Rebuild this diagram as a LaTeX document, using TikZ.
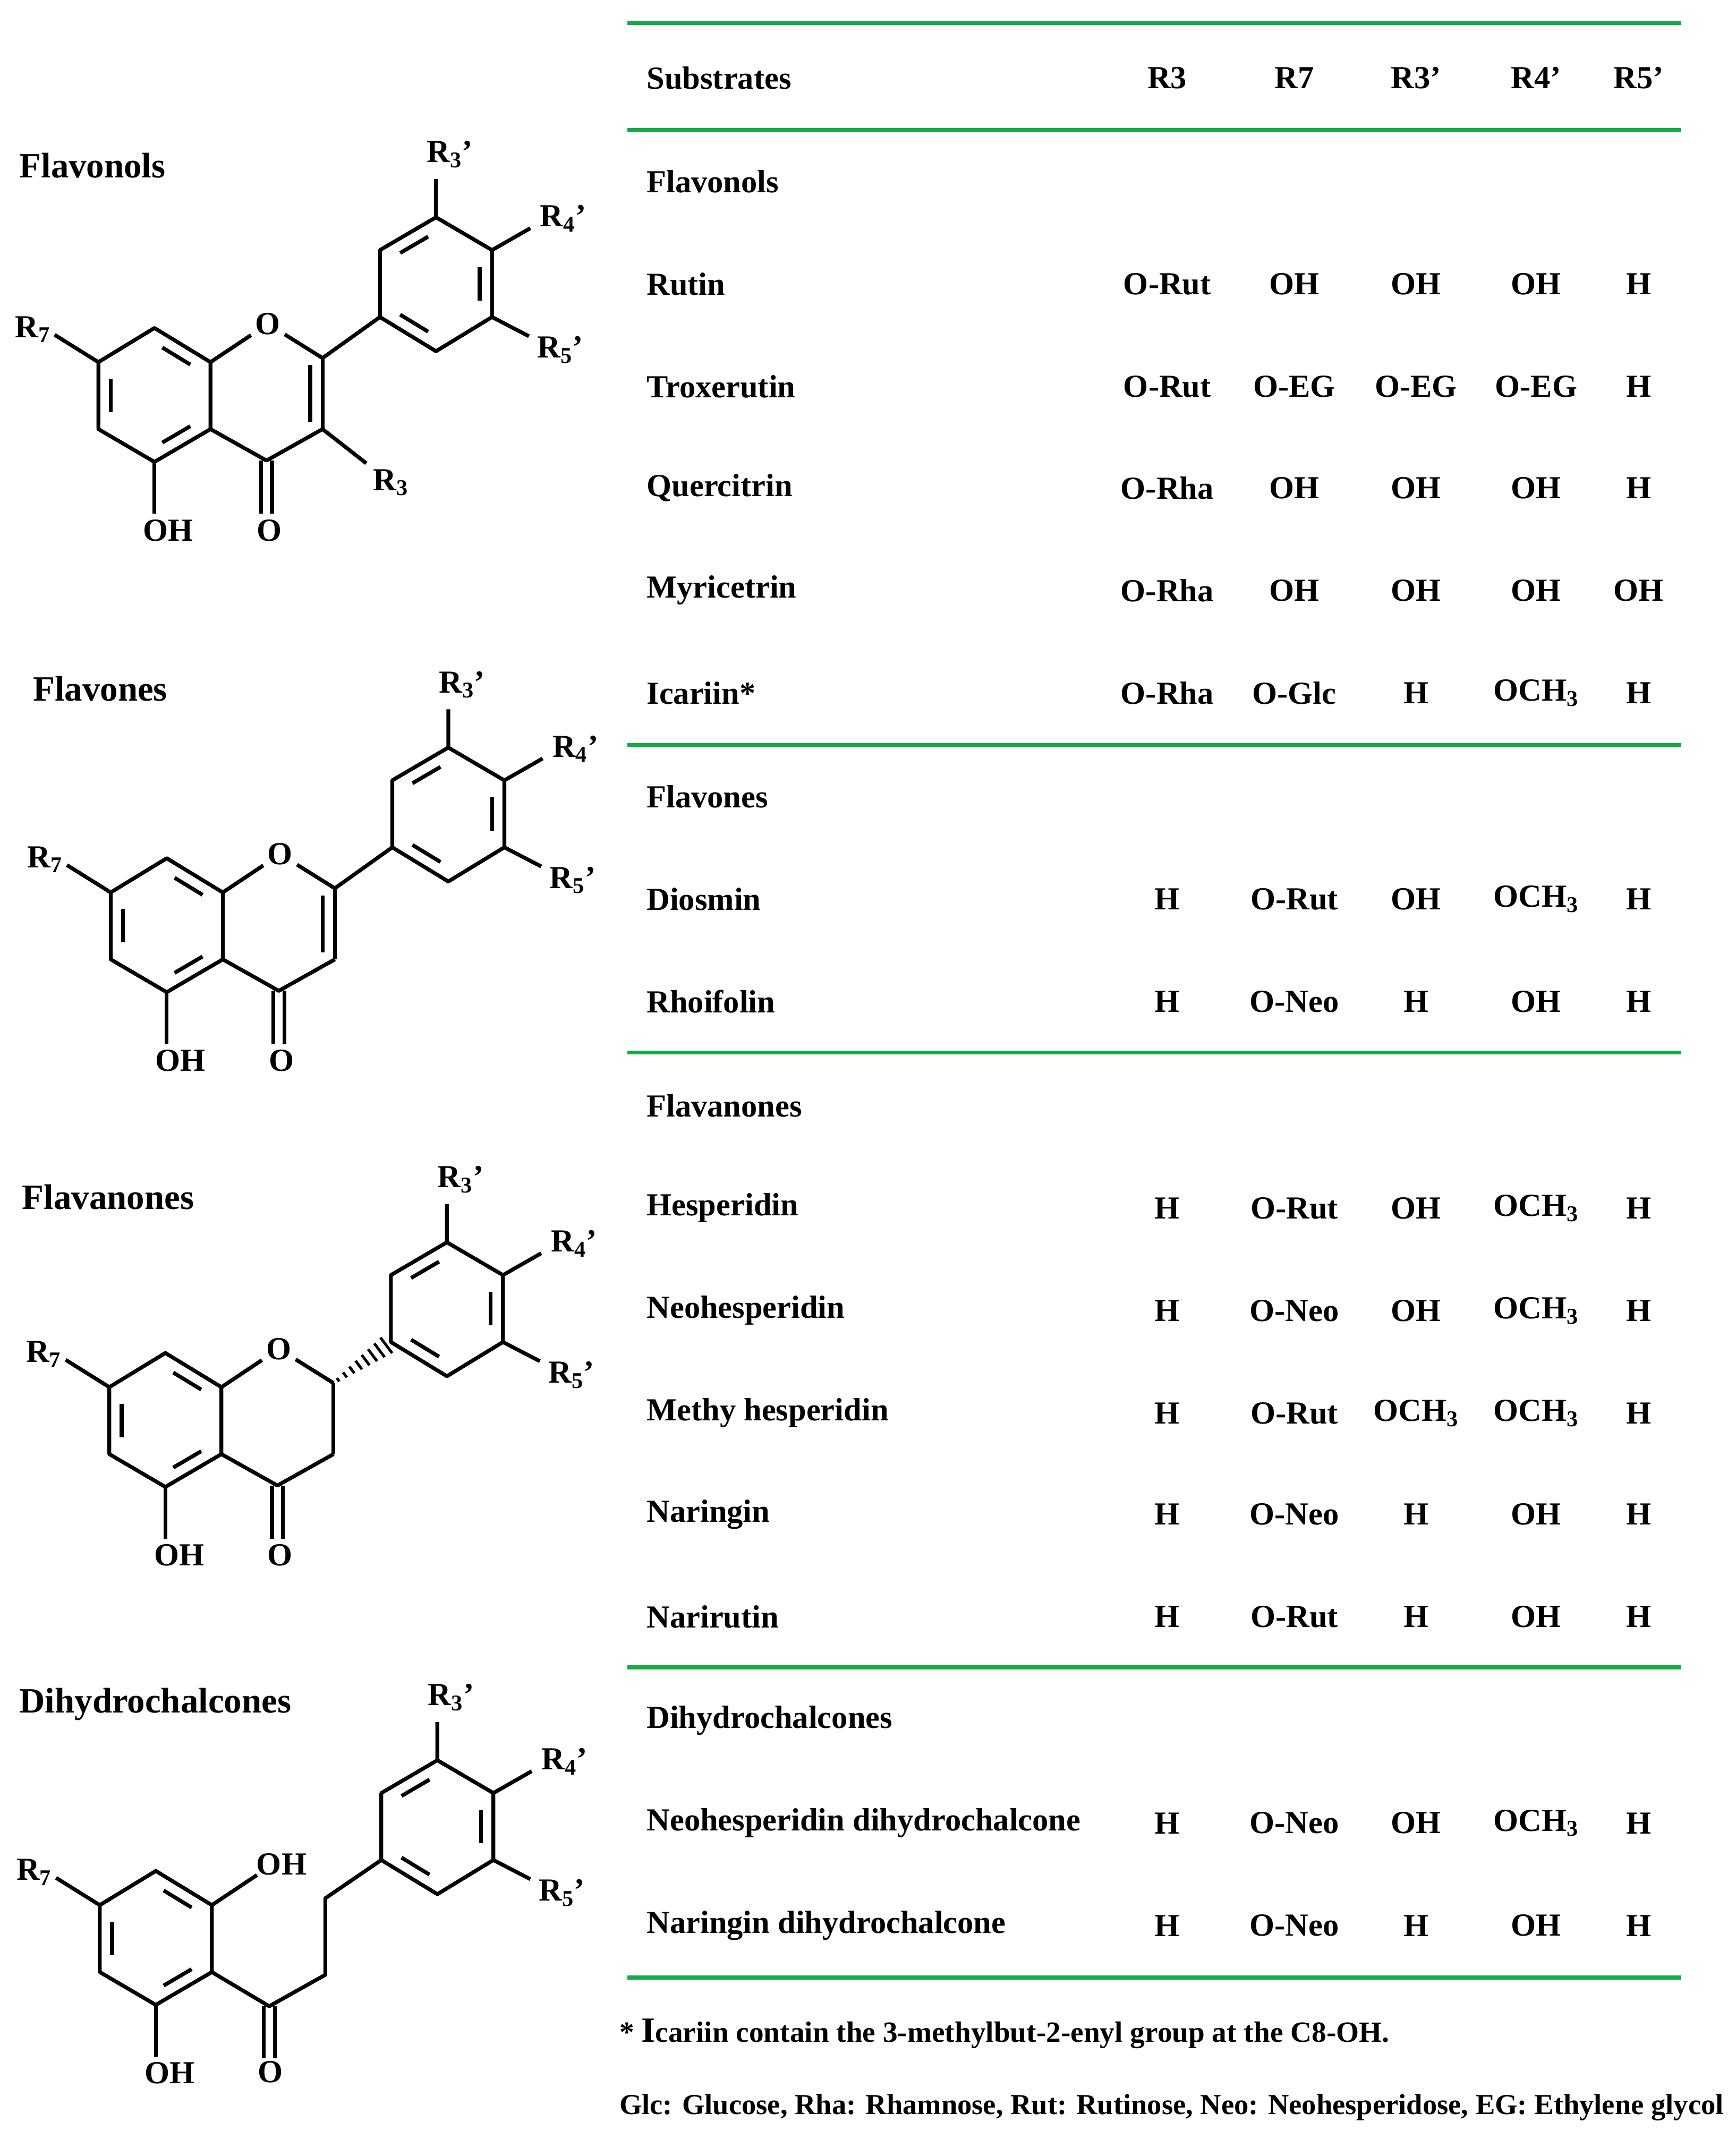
\documentclass[tikz,border=0pt]{standalone}
\usepackage{fontspec}
\setmainfont{Liberation Serif}
\usetikzlibrary{calc}
\definecolor{tgreen}{RGB}{20,170,70}
\tikzset{
  bond/.style={line width=2.8pt},
  lbl/.style={font=\bfseries\fontsize{23.5}{23.5}\selectfont, inner sep=0pt},
  tx/.style={font=\bfseries\fontsize{23.5}{23.5}\selectfont, inner sep=0pt},
  ttl/.style={font=\bfseries\fontsize{26}{26}\selectfont, inner sep=0pt, anchor=west},
  rule/.style={draw=tgreen, line width=2.8pt},
}
\newcommand\dbl[3]{\draw[bond] ($($(#1)!.18!(#2)$)!.22!(#3)$) -- ($($(#2)!.18!(#1)$)!.22!(#3)$);}
\newcommand\ringA{%
  \coordinate (a1) at (113,240); \coordinate (a2) at (154,265);
  \coordinate (a3) at (154,314); \coordinate (a4) at (113,338);
  \coordinate (a5) at (72,314);  \coordinate (a6) at (72,265);
  \coordinate (ca) at (113,289);
  \draw[bond,line join=round] (a1)--(a2)--(a3)--(a4)--(a5)--(a6)--cycle;
  \dbl{a1}{a2}{ca}\dbl{a3}{a4}{ca}\dbl{a5}{a6}{ca}
  \coordinate (r7e) at (40,245);
  \draw[bond] (a6)--(r7e);
  \node[lbl] (r7) at (24,241) {R\textsubscript{7}};
  \coordinate (ohe) at (113,376);
  \draw[bond] (a4)--(ohe);
  \node[lbl] (oh) at (123,388) {OH};
}
\newcommand\ringB{%
  \coordinate (b1) at (278,232); \coordinate (b2) at (278,183);
  \coordinate (b3) at (319,159); \coordinate (b4) at (360,183);
  \coordinate (b5) at (360,232); \coordinate (b6) at (319,257);
  \coordinate (cb) at (319,208);
  \draw[bond,line join=round] (b1)--(b2)--(b3)--(b4)--(b5)--(b6)--cycle;
  \dbl{b2}{b3}{cb}\dbl{b4}{b5}{cb}\dbl{b6}{b1}{cb}
  \coordinate (e3) at (319,131); \coordinate (e4) at (388,167); \coordinate (e5) at (387,246);
  \draw[bond] (b3)--(e3) (b4)--(e4) (b5)--(e5);
  \node[lbl] (r3p) at (329,113) {R\textsubscript{3}'};
  \node[lbl] (r4p) at (412,160) {R\textsubscript{4}'};
  \node[lbl] (r5p) at (410,256) {R\textsubscript{5}'};
}
\newcommand\ringC{%
  \node[lbl,inner sep=3pt] (oxy) at (196,237) {O};
  \coordinate (c2) at (236,262); \coordinate (c3) at (236,314);
  \coordinate (c4) at (195,337); \coordinate (cc) at (195,289);
  \draw[bond] (a2)--(oxy)--(c2); \draw[bond,line join=round] (c3)--(c4)--(a3);
  \coordinate (oe) at (195,376);
  \draw[bond] ($(c4)+(-4,0)$)--($(oe)+(-4,0)$) ($(c4)+(4,0)$)--($(oe)+(4,0)$);
  \node[lbl] (ok) at (197,388) {O};
}
\begin{document}
\begin{tikzpicture}[x=1pt,y=-1pt]
\useasboundingbox (0,0) rectangle (1270,1571);
% Flavonols
\node[ttl] (t1) at (14,121) {Flavonols};
\begin{scope}
\ringA\ringB\ringC
\draw[bond] (c2)--(c3); \draw[bond] ($(c2)!.1!(c3)+(-9,0)$)--($(c3)!.1!(c2)+(-9,0)$);
\draw[bond] (c2)--(b1);
\coordinate (r3e) at (268,339); \draw[bond] (c3)--(r3e);
\node[lbl] (r3) at (286,353) {R\textsubscript{3}};
\end{scope}
% Flavones
\node[ttl] (t2) at (24,504) {Flavones};
\begin{scope}[shift={(9,388)}]
\ringA\ringB\ringC
\draw[bond] (c2)--(c3); \draw[bond] ($(c2)!.1!(c3)+(-9,0)$)--($(c3)!.1!(c2)+(-9,0)$);
\draw[bond] (c2)--(b1);
\end{scope}
% Flavanones
\node[ttl] (t3) at (16,876) {Flavanones};
\begin{scope}[shift={(8,750)}]
\ringA\ringB\ringC
\draw[bond] (c2)--(c3);
\foreach \t/\w in {0.08/1.5,0.2/2.3,0.32/3.1,0.44/3.9,0.56/4.7,0.68/5.5,0.8/6.3,0.92/7.1}
  \draw[line width=2pt] ($(c2)!\t!(b1)+(0.6*\w,0.8*\w)$) -- ($(c2)!\t!(b1)+(-0.6*\w,-0.8*\w)$);
\end{scope}
% Dihydrochalcones
\node[ttl] (t4) at (14,1247) {Dihydrochalcones};
\begin{scope}[shift={(1,1129)}]
\ringA\ringB
\coordinate (ohe2) at (187,243); \draw[bond] (a2)--(ohe2);
\node[lbl] (oh2) at (205,235) {OH};
\coordinate (k) at (196,339); \coordinate (m1) at (237,316); \coordinate (m2) at (237,260);
\draw[bond,line join=round] (a3)--(k)--(m1)--(m2)--(b1);
\coordinate (oe) at (196,377);
\draw[bond] ($(k)+(-4,0)$)--($(oe)+(-4,0)$) ($(k)+(4,0)$)--($(oe)+(4,0)$);
\node[lbl] (ok) at (197,387) {O};
\end{scope}
% Table
\foreach \y [count=\i] in {17,95,545,770,1220,1447}
  \draw[rule] (459,\y) coordinate (ls\i) -- (1230,\y) coordinate (le\i);
\node[tx,anchor=west] (hs) at (473,57) {Substrates};
\node[tx] (h1) at (854,57) {R3};
\node[tx] (h2) at (947,57) {R7};
\node[tx] (h3) at (1036,57) {R3’};
\node[tx] (h4) at (1124,57) {R4’};
\node[tx] (h5) at (1199,57) {R5’};
\foreach \nm/\y in {Flavonols/133,Flavones/583,Flavanones/809,Dihydrochalcones/1259}
  \node[tx,anchor=west] (g\y) at (473,\y) {\nm};
\foreach \y/\nm/\p/\q/\r/\s/\u in {
 208/Rutin/O-Rut/OH/OH/OH/H,
 283/Troxerutin/O-Rut/O-EG/O-EG/O-EG/H,
 357/Quercitrin/O-Rha/OH/OH/OH/H,
 432/Myricetrin/O-Rha/OH/OH/OH/OH,
 507/Icariin*/O-Rha/O-Glc/H/OCH\textsubscript{3}/H,
 658/Diosmin/H/O-Rut/OH/OCH\textsubscript{3}/H,
 733/Rhoifolin/H/O-Neo/H/OH/H,
 884/Hesperidin/H/O-Rut/OH/OCH\textsubscript{3}/H,
 959/Neohesperidin/H/O-Neo/OH/OCH\textsubscript{3}/H,
 1034/Methy hesperidin/H/O-Rut/OCH\textsubscript{3}/OCH\textsubscript{3}/H,
 1108/Naringin/H/O-Neo/H/OH/H,
 1183/Narirutin/H/O-Rut/H/OH/H,
 1334/Neohesperidin dihydrochalcone/H/O-Neo/OH/OCH\textsubscript{3}/H,
 1409/Naringin dihydrochalcone/H/O-Neo/H/OH/H}{
  \node[tx,anchor=west] (n\y) at (473,\y) {\nm};
  \node[tx] (p\y) at (854,\y) {\p};
  \node[tx] (q\y) at (947,\y) {\q};
  \node[tx] (r\y) at (1036,\y) {\r};
  \node[tx] (s\y) at (1124,\y) {\s};
  \node[tx] (u\y) at (1199,\y) {\u};
}
\node[anchor=west,inner sep=0pt,font=\bfseries\fontsize{21.5}{21.5}\selectfont] (fn1) at (453,1488) {* {\fontsize{26}{26}\selectfont I}cariin contain the 3-methylbut-2-enyl group at the C8-OH.};
\node[anchor=west,inner sep=0pt,font=\bfseries\fontsize{21.2}{21.2}\selectfont] (fn2) at (453,1542) {Glc: Glucose, Rha: Rhamnose, Rut: Rutinose, Neo: Neohesperidose, EG: Ethylene glycol};
\end{tikzpicture}
\end{document}
